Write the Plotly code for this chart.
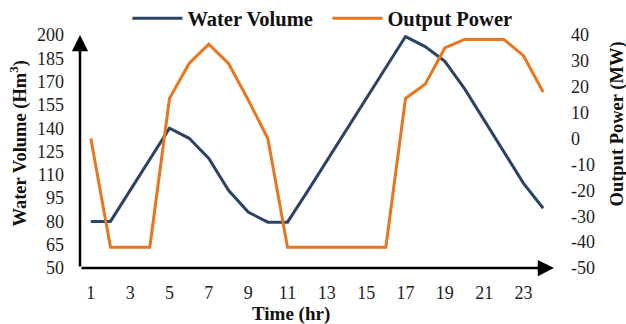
import plotly.graph_objects as go

hours = list(range(1, 25))
water_volume = [80, 80, 100, 120, 140, 133.5, 120.5, 100, 86, 79.5, 79.5, 99, 119, 139, 159, 179,
                199, 192.5, 183, 165.5, 145, 125, 104.5, 88.5]
output_power = [0, -42, -42, -42, 15.5, 29, 36.5, 29, 15, 0, -42, -42, -42, -42, -42, -42,
                15.5, 21, 35, 38.3, 38.3, 38.3, 32, 18]
x_ticks = list(range(1, 24, 2))
left_ticks = list(range(50, 201, 15))
right_ticks = list(range(-50, 41, 10))

BLUE = "#2C4463"
ORANGE = "#E8761E"
SERIF = "Liberation Serif, Times New Roman, serif"

fig = go.Figure()
fig.add_trace(go.Scatter(x=hours, y=water_volume, name="Water Volume", mode="lines",
                         line=dict(color=BLUE, width=3), yaxis="y"))
fig.add_trace(go.Scatter(x=hours, y=output_power, name="Output Power", mode="lines",
                         line=dict(color=ORANGE, width=3), yaxis="y2"))

fig.update_layout(
    width=626, height=324,
    margin=dict(l=80, r=72, t=35, b=56, autoexpand=False),
    paper_bgcolor="white", plot_bgcolor="white",
    font=dict(family=SERIF, size=18, color="#222"),
    showlegend=True,
    legend=dict(orientation="h", x=0.1, y=0.985, xanchor="left", yanchor="bottom",
                font=dict(family=SERIF, size=20.5, color="#111", weight="bold"),
                itemwidth=50, entrywidth=135, tracegroupgap=0, bgcolor="rgba(0,0,0,0)"),
    xaxis=dict(range=[0.45, 24.55], tickmode="array", tickvals=x_ticks,
               ticktext=[str(t) for t in x_ticks], showgrid=False, zeroline=False,
               showline=False, ticks="", ticklabelstandoff=12,
               tickfont=dict(family=SERIF, size=18, color="#222")),
    yaxis=dict(range=[50, 200], tickmode="array", tickvals=left_ticks, showgrid=False,
               zeroline=False, showline=False, ticks="", ticklabelstandoff=15,
               tickfont=dict(family=SERIF, size=18, color="#222")),
    yaxis2=dict(range=[-50, 40], tickmode="array", tickvals=right_ticks,
                ticktext=[str(t) for t in right_ticks], overlaying="y",
                side="right", showgrid=False, zeroline=False, showline=False, ticks="",
                ticklabelstandoff=16, tickfont=dict(family=SERIF, size=18, color="#222")),
)

# axis lines with arrowheads
fig.add_annotation(xref="paper", yref="paper", x=1.0, y=0, ax=-474, ay=0, axref="pixel",
                   ayref="pixel", showarrow=True, arrowhead=2, arrowsize=1.3, arrowwidth=2.5,
                   arrowcolor="black", text="")
fig.add_annotation(xref="paper", yref="paper", x=0, y=1.0, ax=0, ay=233, axref="pixel",
                   ayref="pixel", showarrow=True, arrowhead=2, arrowsize=1.3, arrowwidth=2.5,
                   arrowcolor="black", text="")

# axis titles
fig.add_annotation(xref="paper", yref="paper", x=0.445, y=0, yshift=-59, showarrow=False,
                   text="<b>Time (hr)</b>", font=dict(family=SERIF, size=19, color="#111"))
fig.add_annotation(xref="paper", yref="paper", x=0, y=0.532, xshift=-76, showarrow=False,
                   textangle=-90, text="<b>Water Volume (Hm<sup>3</sup>)</b>",
                   font=dict(family=SERIF, size=18.5, color="#111"))
fig.add_annotation(xref="paper", yref="paper", x=1, y=0.618, xshift=76, showarrow=False,
                   textangle=-90, text="<b>Output Power (MW)</b>",
                   font=dict(family=SERIF, size=18.5, color="#111"))

fig.write_html("out.html", post_script="document.body.style.margin='0';",
               config={"displayModeBar": False})
